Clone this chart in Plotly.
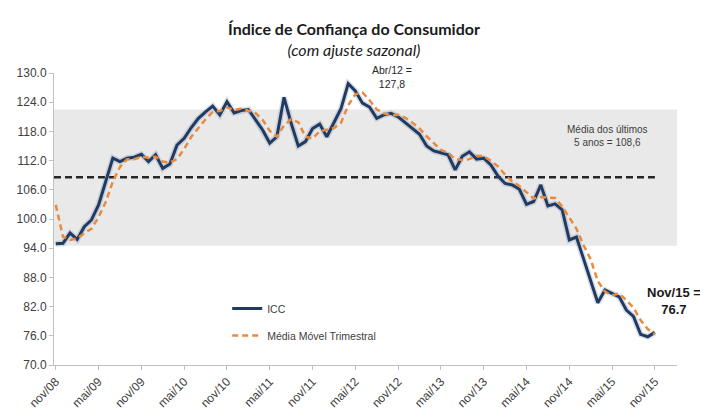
import plotly.graph_objects as go

# ---- data ----
icc = [94.9, 95.0, 97.1, 95.8, 98.4, 99.8, 102.9, 107.7, 112.5, 111.8,
       112.5, 112.7, 113.3, 111.8, 113.2, 110.4, 111.3, 115.2, 116.6, 118.8,
       120.7, 122.0, 123.2, 121.4, 124.1, 121.8, 122.3, 122.5, 120.5, 118.3,
       115.6, 116.9, 125.0, 119.7, 115.0, 115.9, 118.6, 119.5, 116.9, 119.7,
       122.7, 127.8, 126.3, 123.8, 123.0, 120.7, 121.4, 121.7, 121.0, 119.8,
       118.6, 117.4, 115.0, 114.0, 113.6, 113.2, 110.1, 112.9, 113.8, 112.3,
       112.5, 111.1, 108.8, 107.3, 107.0, 106.1, 103.0, 103.6, 107.0, 102.7,
       103.1, 101.9, 95.7, 96.3, 91.8, 87.1, 82.8, 85.4, 84.7, 84.0,
       81.3, 80.0, 76.3, 75.8, 76.7]

media_movel = [102.9, 96.4, 95.7, 96.0, 97.1, 98.0, 100.4, 103.5, 107.7, 110.7,
               112.3, 112.3, 112.8, 112.6, 112.8, 111.8, 111.6, 112.3, 114.4, 116.9,
               118.7, 120.5, 122.0, 122.2, 122.9, 122.4, 122.7, 122.2, 121.8, 120.4,
               118.1, 116.9, 119.2, 120.5, 119.9, 116.9, 116.5, 118.0, 118.3, 118.7,
               119.8, 123.4, 125.6, 126.0, 124.4, 122.5, 121.7, 121.3, 121.4, 120.8,
               119.8, 118.6, 117.0, 115.5, 114.2, 113.6, 112.3, 112.1, 112.3, 113.0,
               112.9, 112.0, 110.8, 109.1, 107.7, 106.8, 105.4, 104.2, 104.5, 104.4,
               104.3, 102.6, 100.2, 98.0, 94.6, 91.7, 87.2, 85.1, 84.3, 84.7,
               83.3, 81.8, 79.2, 77.4, 76.3]

tick_labels = ["nov/08", "mai/09", "nov/09", "mai/10", "nov/10", "mai/11", "nov/11",
               "mai/12", "nov/12", "mai/13", "nov/13", "mai/14", "nov/14", "mai/15", "nov/15"]

media_5_anos = 108.6
faixa_inferior = 94.5
faixa_superior = 122.5
y_ticks = [70, 76, 82, 88, 94, 100, 106, 112, 118, 124, 130]

x = list(range(len(icc)))
tick_pos = list(range(0, len(icc), 6))

font_axis = dict(family="Liberation Sans, Arial, sans-serif", size=12, color="#404040")

fig = go.Figure()

# subtle shadow under ICC line
fig.add_trace(go.Scatter(x=x, y=icc, mode="lines", showlegend=False, hoverinfo="skip",
                         line=dict(color="rgba(90,110,140,0.22)", width=6)))
fig.add_trace(go.Scatter(x=x, y=icc, mode="lines", name="ICC", legendgroup="a",
                         line=dict(color="#1f3b63", width=3)))
fig.add_trace(go.Scatter(x=x, y=media_movel, mode="lines", name="Média Móvel Trimestral",
                         legendgroup="b",
                         line=dict(color="#E98A3E", width=2.5, dash="6px,4px")))

# gray band and mean line
fig.add_shape(type="rect", xref="paper", yref="y", x0=0, x1=1,
              y0=faixa_inferior, y1=faixa_superior,
              fillcolor="#e9e9e9", line=dict(width=0), layer="below")
fig.add_shape(type="line", xref="x", yref="y", x0=-0.25, x1=x[-1],
              y0=media_5_anos, y1=media_5_anos,
              line=dict(color="#262626", width=2.5, dash="7px,4px"), layer="below")

ann_font = dict(family="Liberation Sans, Arial, sans-serif", size=10.5, color="#262626")
fig.add_annotation(x=41, y=127.8, xref="x", yref="y", text="Abr/12 =<br>127,8",
                   showarrow=False, font=ann_font, xshift=44, yshift=6.5,
                   align="center")
fig.add_annotation(x=79, y=media_5_anos, xref="x", yref="y",
                   text="Média dos últimos<br>5 anos = 108,6",
                   showarrow=False, font=dict(family="Liberation Sans, Arial, sans-serif",
                                              size=10, color="#404040"),
                   xshift=-12, yshift=41.5, align="center")
fig.add_annotation(x=84, y=icc[-1], xref="x", yref="y", text="<b>Nov/15 =<br>76.7</b>",
                   showarrow=False, font=dict(family="Liberation Sans, Arial, sans-serif",
                                              size=13, color="#1a1a1a"),
                   xshift=19, yshift=31, align="center")

fig.update_layout(
    width=692, height=401,
    margin=dict(l=46, r=23, t=65, b=44, autoexpand=False),
    paper_bgcolor="white", plot_bgcolor="white",
    title=dict(
        text="<b>Índice de Confiança do Consumidor</b><br>"
             "<i>(com ajuste sazonal)</i>",
        x=0.5, xanchor="center", y=0.9334, yanchor="top",
        font=dict(family="Lato, Open Sans, sans-serif", size=16, color="#1a1a1a")),
    xaxis=dict(range=[-0.25, 87.1], tickmode="array", tickvals=tick_pos,
               ticktext=tick_labels, tickangle=-45, tickfont=font_axis,
               automargin=False,
               showgrid=False, zeroline=False, showline=True, linecolor="#bfbfbf",
               linewidth=1, ticks="outside", ticklen=4, tickcolor="#bfbfbf"),
    yaxis=dict(range=[70, 130], tickmode="array", tickvals=y_ticks,
               tickformat=".1f", tickfont=font_axis, showgrid=False, zeroline=False,
               automargin=False,
               showline=True, linecolor="#bfbfbf", linewidth=1, ticks="outside",
               ticklen=4, tickcolor="#bfbfbf"),
    legend=dict(x=0.278, y=0.243, xanchor="left", yanchor="top",
                bgcolor="rgba(0,0,0,0)", itemwidth=30, tracegroupgap=8,
                font=dict(family="Liberation Sans, Arial, sans-serif", size=10.5,
                          color="#404040")),
    showlegend=True,
)

fig.write_html("out.html")
